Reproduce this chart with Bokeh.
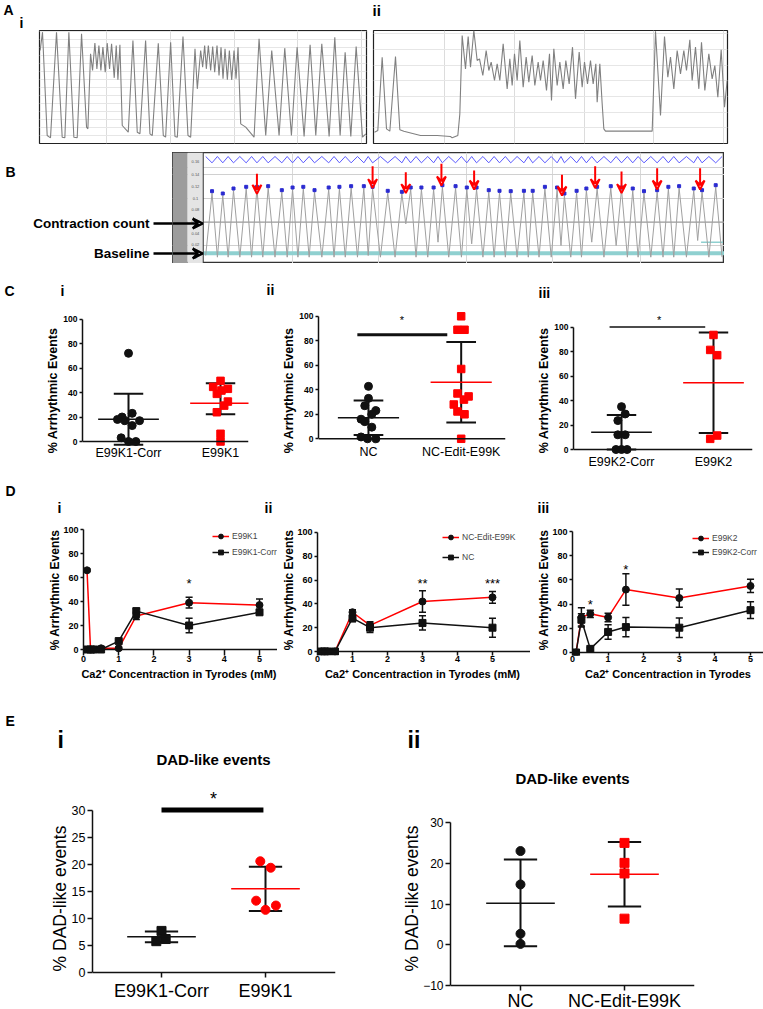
from bokeh.plotting import figure
from bokeh.layouts import row, column
from bokeh.models import (Range1d, FixedTicker, SingleIntervalTicker, Label, Arrow, VeeHead,
                          BoxAnnotation, Span, Legend, LegendItem, Spacer, Grid)
from bokeh.core.properties import value
from bokeh.embed import file_html
from bokeh.resources import INLINE

FONT = "Liberation Sans"
RED = "#ff0000"
INK = "#111111"

# ======================= DATA =======================
# Panel A i : contraction trace (frame index, amplitude a.u.)
ai_frame = [119,126,140,150,168,185,193,205,220,230,243,258,262,270,276,283,289,295,301,307,
            314,320,327,333,341,347,352,358,365,383,397,410,418,435,448,455,473,488,495,510,
            523,530,547,562,570,583,590,600,606,612,617,623,630,636,642,649,655,661,667,673,
            680,686,693,700,706,712,720,735,760,775,795,813,835,852,872,889,910,928,945,963,
            985,1002,1018,1033,1050,1066,1085,1095]
ai_amp = [279,334,24,17,334,19,17,334,19,17,329,49,44,269,219,301,224,294,219,289,
          214,301,224,299,197,294,191,296,54,34,309,34,29,309,29,24,301,24,19,304,
          21,19,321,24,19,284,164,279,229,294,224,294,219,291,214,294,204,289,194,284,
          191,279,191,279,194,289,59,49,19,314,24,279,24,286,24,289,21,296,24,299,
          21,319,24,274,21,291,19,29]
ai_grid = [317, 509, 700, 891, 1083]

# Panel A ii
aii_frame = [12,22,35,48,58,75,88,100,150,200,240,245,262,268,275,285,293,300,310,320,
             327,337,347,355,362,372,380,388,398,410,418,425,432,440,448,458,467,475,485,493,
             503,510,518,528,537,543,550,560,568,578,586,596,606,615,626,635,642,651,660,668,
             676,680,688,695,700,705,845,855,870,882,892,900,910,920,930,940,948,958,965,975,
             985,993,1003,1015,1025,1033,1042,1052,1062,1070]
aii_amp = [34,39,259,44,37,261,41,37,24,24,21,17,24,89,324,224,321,229,339,249,
           254,204,279,219,244,189,239,189,299,164,254,174,269,189,309,169,259,184,264,174,
           244,189,249,159,269,129,284,174,244,164,249,179,289,134,274,169,244,179,249,179,
           239,124,239,119,44,37,37,337,84,321,199,259,164,279,209,279,219,311,189,289,
           164,304,159,269,194,234,139,281,109,189]
aii_grid = [222, 432, 642, 850, 1060]

# Panel B : contraction trace (frame, signal level; larger = lower on screen)
b_peak_x = [433,455,477,503,525,548,576,598,620,643,672,694,718,744,762,793,822,840,862,887,
            905,932,955,975,1000,1022,1045,1072,1090,1115,1140,1155,1180,1200,1222,1250,1272,
            1295,1318,1345,1368,1390,1420,1437,1465]
b_peak_y = [143,150,135,130,130,128,140,132,130,140,132,130,128,128,130,142,145,132,132,132,
            125,128,132,132,140,142,143,142,142,130,132,150,142,135,130,128,132,135,143,140,
            130,128,135,140,125]
b_trough_x = [420,444,466,490,514,537,562,587,609,632,658,683,706,731,753,778,808,830,851,875,
              896,918,944,965,988,1011,1034,1058,1081,1103,1128,1148,1168,1190,1211,1236,1261,
              1284,1306,1332,1357,1379,1405,1428,1451,1478]
b_trough_y = [330,335,335,335,335,335,335,335,335,335,335,335,335,335,330,335,335,235,335,335,
              290,335,335,295,335,335,335,335,335,335,335,300,335,335,290,335,300,
              335,335,335,335,335,335,285,335,335]
b_blue_hi = 33
b_blue_lo = 52
b_arrow_x = [525, 762, 830, 903, 970, 1150, 1218, 1272, 1345, 1433]
b_arrow_top = [85, 62, 80, 55, 75, 88, 62, 78, 68, 68]
b_arrow_tip = [145, 128, 143, 120, 132, 150, 128, 143, 132, 132]
b_tick_pos = [48, 88, 122, 158, 193, 228, 265, 298, 335]
b_tick_lab = ["0.16", "0.14", "0.12", "0.1", "0.08", "0.06", "0.04", "0.02", "0"]
b_hgrid = [65, 88, 158, 300]
b_vgrid = [597, 775, 955, 1130, 1310]
b_count_level = 230
b_baseline_level = 323

# Panel C  (lo / hi = ends of the SD bars)
c1_cats = ["E99K1-Corr", "E99K1"]
c1_corr = [72, 23, 20, 18, 17, 17, 13, 3, 0, 0]
c1_corr_dx = [0, 0.04, -0.07, -0.12, -0.04, 0.12, 0.04, -0.08, 0, 0.08]
c1_mut = [49.5, 44.6, 43, 41.6, 38.9, 32.6, 29.3, 23.9, 6.3, 0]
c1_mut_dx = [0, -0.08, 0.08, 0.01, -0.04, 0.08, 0.04, -0.04, 0, 0]
c1_mean = [18.2, 31.2]
c1_lo = [-2.6, 22.3]
c1_hi = [39.0, 47.5]

c2_cats = ["NC", "NC-Edit-E99K"]
c2_nc = [42.8, 33, 27, 23, 20, 16, 14, 9.5, 1.5, 0, 0]
c2_nc_dx = [0, 0, -0.04, 0.08, 0.036, -0.08, -0.04, 0.036, -0.08, -0.01, 0.08]
c2_edit = [100, 89, 89, 57, 37, 34.6, 32, 28, 22.3, 20, 0]
c2_edit_dx = [0, -0.04, 0.036, 0, -0.04, 0.08, 0.03, -0.08, -0.04, 0.036, 0]
c2_mean = [17.2, 46.2]
c2_lo = [3.2, 13.4]
c2_hi = [31.2, 79.0]
c2_sig = [0.88, 1.85, 85]
c2_star = [1.36, 97]

c3_cats = ["E99K2-Corr", "E99K2"]
c3_corr = [35, 29, 23.6, 12, 12, 0, 0, 0]
c3_corr_dx = [0, 0.04, -0.04, -0.04, 0.04, -0.06, 0, 0.06]
c3_mut = [93.5, 81.3, 77, 8.7, 11.4]
c3_mut_dx = [0, -0.036, 0.04, -0.036, 0.04]
c3_mean = [14.1, 54.5]
c3_lo = [0.0, 13.5]
c3_hi = [28.2, 95.5]
c3_sig = [0.87, 1.91, 100]
c3_star = [1.41, 106]

# Panel D (Ca2+ mM)
d1_x = [0.1, 0.2, 0.3, 0.5, 1, 1.5, 3, 5]
d1_red = [66, 0, 0, 1, 1, 28, 39, 37]
d1_red_err = [1, 0, 0, 1, 1, 3, 4.5, 5]
d1_blk = [0, 0, 0, 0, 7, 32, 20, 31]
d1_blk_err = [1, 0, 0, 0, 1, 2, 6, 2]
d1_names = ["E99K1", "E99K1-Corr"]
d1_stars_x = [3]
d1_stars_y = [55]
d1_stars = ["*"]

d2_x = [0.1, 0.2, 0.3, 0.5, 1, 1.5, 3, 5]
d2_red = [0, 0, 0, 0, 33, 22, 42, 45.5]
d2_red_err = [0, 0, 0, 0, 2, 3, 9, 5]
d2_blk = [0, 0, 0, 0, 28, 20, 24, 20]
d2_blk_err = [0, 0, 0, 0, 3, 4, 6, 8]
d2_names = ["NC-Edit-E99K", "NC"]
d2_stars_x = [3, 5]
d2_stars_y = [57, 57.5]
d2_stars = ["**", "***"]

d3_x = [0.1, 0.25, 0.5, 1, 1.5, 3, 5]
d3_red = [0, 29, 32, 29, 52, 45, 55]
d3_red_err = [0, 8, 3, 3.5, 13, 7.5, 5.5]
d3_blk = [0, 27, 3, 17, 21, 20.5, 35]
d3_blk_err = [0, 5, 1, 6, 8, 8, 7]
d3_names = ["E99K2", "E99K2-Corr"]
d3_stars_x = [0.5, 1.5]
d3_stars_y = [39.5, 69]
d3_stars = ["*", "*"]
d_ticks_x = [0, 1, 2, 3, 4, 5]
d_ticks_y = [0, 20, 40, 60, 80, 100]

# Panel E
e1_cats = ["E99K1-Corr", "E99K1"]
e1_corr = [7.7, 5.8, 6.2]
e1_corr_dx = [0, -0.05, 0.04]
e1_mut = [20.6, 19.4, 13.3, 11.6, 12.4]
e1_mut_dx = [-0.05, 0.05, -0.09, 0, 0.1]
e1_mean = [6.6, 15.5]
e1_lo = [5.6, 11.4]
e1_hi = [7.6, 19.6]
e1_sig = [1.0, 1.98, 30.1]
e1_star = [1.5, 32.2]
e1_ticks_y = [0, 5, 10, 15, 20, 25, 30]

e2_cats = ["NC", "NC-Edit-E99K"]
e2_nc = [23, 14.8, 2.7, 0.2]
e2_edit = [25, 20.1, 17.5, 6.4]
e2_mean = [10.2, 17.3]
e2_lo = [-0.4, 9.4]
e2_hi = [20.9, 25.2]
e2_ticks_y = [-10, 0, 10, 20, 30]

# ======================= HELPERS =======================
MEAN_HW = 0.33
CAP_HW = 0.16
D_CAP = 0.1
W = 763


def make_fig(w, h, xr, yr, l, r, t, b, xaxis=True, yaxis=True):
    kw = dict(width=w, height=h, x_range=Range1d(*xr), y_range=Range1d(*yr),
              output_backend="svg", toolbar_location=None,
              min_border_left=l, min_border_right=r, min_border_top=t, min_border_bottom=b,
              x_axis_location="below" if xaxis else None,
              y_axis_location="left" if yaxis else None)
    p = figure(**kw)
    p.grid.visible = False
    p.outline_line_color = None
    p.background_fill_color = "white"
    p.border_fill_color = "white"
    return p


def label(p, x, y, text, size, style="bold", align="left", baseline="middle", color="black",
          x_units="screen"):
    p.add_layout(Label(x=x, y=y, x_units=x_units, y_units="screen", text=text,
                       text_font=FONT, text_font_size=f"{size}px", text_font_style=style,
                       text_align=align, text_baseline=baseline, text_color=color))


def header(h, items):
    """A text strip; items: (x, y_from_top, text, size, align)."""
    p = make_fig(W, h, (0, W), (0, h), 0, 0, 0, 0, xaxis=False, yaxis=False)
    for x, yt, text, size, align in items:
        label(p, x, h - yt, text, size, align=align)
    return p


def style_axis(ax, ticks, size, style="normal", tick_in=0, tick_out=3, lw=1.5, bounds=None,
               line=True, standoff=2):
    ax.ticker = FixedTicker(ticks=ticks)
    if bounds is not None:
        ax.bounds = bounds
    ax.axis_line_width = lw
    ax.axis_line_color = INK if line else None
    ax.major_tick_line_width = lw
    ax.major_tick_line_color = INK
    ax.major_tick_in = tick_in
    ax.major_tick_out = tick_out
    ax.minor_tick_line_color = None
    ax.major_label_text_font = FONT
    ax.major_label_text_font_size = f"{size}px"
    ax.major_label_text_font_style = style
    ax.major_label_text_color = "black"
    ax.major_label_standoff = standoff
    ax.axis_label_text_font = FONT
    ax.axis_label_text_color = "black"


def y_title(ax, text, size, style, standoff):
    ax.axis_label = text
    ax.axis_label_text_font_size = f"{size}px"
    ax.axis_label_text_font_style = style
    ax.axis_label_standoff = standoff


def cat_axis(p, cats, y0, label_y, size, tick_len=0.0):
    """Category axis drawn at data level y0; labels at label_y px above the frame bottom."""
    p.add_layout(Span(location=y0, dimension="width", line_color=INK, line_width=1.5))
    if tick_len > 0:
        p.segment(x0=[1, 2], y0=[y0, y0], x1=[1, 2], y1=[y0 - tick_len, y0 - tick_len],
                  line_color=INK, line_width=1.5)
    for i, c in enumerate(cats):
        label(p, i + 1, label_y, c, size, style="normal", align="center", x_units="data")


def dot_group(p, xc, dx, vals, marker, color, mean, lo, hi, mean_color, size):
    xs = [xc + d for d in dx]
    p.segment(x0=[xc], y0=[lo], x1=[xc], y1=[hi], line_color=INK, line_width=2)
    p.segment(x0=[xc - CAP_HW, xc - CAP_HW], y0=[lo, hi],
              x1=[xc + CAP_HW, xc + CAP_HW], y1=[lo, hi], line_color=INK, line_width=2)
    p.scatter(xs, vals, marker=marker, size=size, color=color)
    p.segment(x0=[xc - MEAN_HW], y0=[mean], x1=[xc + MEAN_HW], y1=[mean],
              line_color=mean_color, line_width=1.5)


def trace_grid(p, vticks, hticker):
    p.add_layout(Grid(dimension=0, ticker=FixedTicker(ticks=vticks), grid_line_color="#dcdcdc"))
    p.add_layout(Grid(dimension=1, ticker=hticker, grid_line_color="#e6e6e6"))


# ======================= PANEL A =======================
hA = header(29, [(3, 9, "A", 14, "left"), (19, 22, "i", 14, "left"),
                 (372, 10, "ii", 15, "left")])

pA1 = make_fig(368, 118, (117, 1097), (0, 339), 39, 2, 1, 4, xaxis=False, yaxis=False)
trace_grid(pA1, ai_grid, SingleIntervalTicker(interval=24))
pA1.outline_line_color = "#222222"
pA1.outline_line_width = 1.2
pA1.line(ai_frame, ai_amp, line_color="#808080", line_width=1.1)

pA2 = make_fig(395, 118, (9, 1071), (0, 339), 5, 36, 1, 4, xaxis=False, yaxis=False)
trace_grid(pA2, aii_grid, SingleIntervalTicker(interval=47))
pA2.outline_line_color = "#222222"
pA2.outline_line_width = 1.2
pA2.line(aii_frame, aii_amp, line_color="#808080", line_width=1.1)

# ======================= PANEL B =======================
pBt = make_fig(172, 123, (0, 172), (0, 123), 0, 0, 0, 0, xaxis=False, yaxis=False)
label(pBt, 5, 99, "B", 14)
label(pBt, 149, 47, "Contraction count", 13.5, align="right")
label(pBt, 149, 17, "Baseline", 13.5, align="right")
pBt.add_layout(Arrow(end=None, x_start=153, y_start=47, x_end=172, y_end=47,
                     line_color="black", line_width=2.5))
pBt.add_layout(Arrow(end=None, x_start=153, y_start=17, x_end=172, y_end=17,
                     line_color="black", line_width=2.5))

pB = make_fig(552, 111, (352, 1483), (354, 21), 0, 0, 0, 0, xaxis=False, yaxis=False)
pB.outline_line_color = "#333333"
pB.outline_line_width = 1.5
pB.add_layout(Grid(dimension=0, ticker=FixedTicker(ticks=b_vgrid), grid_line_color="#d8d8d8"))
pB.add_layout(Grid(dimension=1, ticker=FixedTicker(ticks=b_hgrid), grid_line_color="#d0d0d0"))
pB.add_layout(Span(location=b_count_level, dimension="width", line_color="#9a9a9a",
                   line_width=1.2, level="underlay"))
pB.add_layout(Span(location=b_baseline_level, dimension="width", line_color="#8fd0d0",
                   line_width=4, level="underlay"))
pB.add_layout(BoxAnnotation(left=352, right=383, fill_color="#9c9c9c", fill_alpha=1,
                            line_color=None, level="underlay"))
pB.add_layout(BoxAnnotation(left=383, right=415, fill_color="#e4e4e4", fill_alpha=1,
                            line_color=None, level="underlay"))
pB.add_layout(Span(location=415, dimension="height", line_color="#333333", line_width=1,
                   level="underlay"))
pB.segment(x0=[1435], y0=[290], x1=[1480], y1=[290], line_color="#8fd0d0", line_width=1.5)

bx, by = [], []
for i in range(len(b_peak_x)):
    bx += [b_trough_x[i], b_peak_x[i]]
    by += [b_trough_y[i], b_peak_y[i]]
bx.append(b_trough_x[-1])
by.append(b_trough_y[-1])
pB.line(bx, by, line_color="#a0a0a0", line_width=1)

blx, bly = [], []
for i in range(len(b_peak_x)):
    blx += [b_trough_x[i], b_peak_x[i]]
    bly += [b_blue_hi, b_blue_lo]
blx.append(b_trough_x[-1])
bly.append(b_blue_hi)
pB.line(blx, bly, line_color="#5a5aff", line_width=1)
pB.scatter(b_peak_x, [y - 6 for y in b_peak_y], marker="square", size=3, color="#2b2bd0")
pB.text(x=[399] * len(b_tick_pos), y=b_tick_pos, text=b_tick_lab, text_font=value(FONT),
        text_font_size="4px", text_align="center", text_baseline="middle", text_color="#555555")
for xa, yt, yb in zip(b_arrow_x, b_arrow_top, b_arrow_tip):
    pB.add_layout(Arrow(end=VeeHead(size=9, line_color=RED, line_width=2, fill_color=None),
                        x_start=xa, y_start=yt, x_end=xa, y_end=yb,
                        line_color=RED, line_width=2))
for yl in (234, 324):
    pB.add_layout(Arrow(end=VeeHead(size=10, line_color="black", line_width=2.5, fill_color=None),
                        x_start=352, y_start=yl, x_end=414, y_end=yl,
                        line_color="black", line_width=2.5))

rowB = row(pBt, column(Spacer(width=552, height=5), pB, Spacer(width=552, height=7), spacing=0),
           spacing=0)


# ======================= PANEL C =======================
def c_panel(w, xr, yr, l, r, cats, label_y, blk, blk_dx, red, red_dx, mean, lo, hi,
            sig=None, star=None, sig_w=3):
    p = make_fig(w, 174, xr, yr, l, r, 2, 0, xaxis=False)
    cat_axis(p, cats, 0, label_y, 12.5)
    style_axis(p.yaxis[0], [0, 20, 40, 60, 80, 100], 8.5, "bold", tick_out=3, bounds=(0, 100))
    y_title(p.yaxis[0], "% Arrhythmic Events", 12.5, "bold", 0)
    dot_group(p, 1, blk_dx, blk, "circle", INK, mean[0], lo[0], hi[0], INK, 8)
    dot_group(p, 2, red_dx, red, "square", RED, mean[1], lo[1], hi[1], RED, 7.5)
    if sig is not None:
        p.segment(x0=[sig[0]], y0=[sig[2]], x1=[sig[1]], y1=[sig[2]], line_color=INK,
                  line_width=sig_w)
        p.text(x=[star[0]], y=[star[1]], text=["*"], text_font=value(FONT), text_font_size="11px",
               text_align="center", text_baseline="middle")
    return p


hC = header(32, [(4, 20, "C", 14, "left"), (60, 20, "i", 14, "left"),
                 (266, 19, "ii", 14, "left"), (538, 22, "iii", 14, "left")])
pC1 = c_panel(250, (0.5, 2.304), (-28.57, 111.84), 82, 2, c1_cats, 24,
              c1_corr, c1_corr_dx, c1_mut, c1_mut_dx, c1_mean, c1_lo, c1_hi)
pC2 = c_panel(260, (0.461, 2.478), (-30.78, 109.63), 68, 5, c2_cats, 25,
              c2_nc, c2_nc_dx, c2_edit, c2_edit_dx, c2_mean, c2_lo, c2_hi, c2_sig, c2_star, 3)
pC3 = c_panel(253, (0.478, 2.424), (-22.04, 118.37), 63, 11, c3_cats, 15,
              c3_corr, c3_corr_dx, c3_mut, c3_mut_dx, c3_mean, c3_lo, c3_hi, c3_sig, c3_star, 1.5)


# ======================= PANEL D =======================
# all D plots share the same frame rows (top 524, bottom 655), as Bokeh aligns them in a row
def d_panel(w, xr, yr, gap, l, x, red, red_e, blk, blk_e, names, sx, sy, st, leg_loc,
            leg_spacing, xlabel):
    p = make_fig(w, 184, xr, yr, l, 0, 8, 45)
    style_axis(p.xaxis[0], d_ticks_x, 9, "bold", tick_in=gap, tick_out=0, bounds=(0, 5),
               line=False, standoff=0)
    p.add_layout(Span(location=0, dimension="width", line_color=INK, line_width=1.5))
    p.xaxis[0].axis_label = xlabel
    p.xaxis[0].axis_label_text_font_size = "11px"
    p.xaxis[0].axis_label_text_font_style = "bold"
    p.xaxis[0].axis_label_standoff = 3
    style_axis(p.yaxis[0], d_ticks_y, 9, "bold", tick_out=3, bounds=(0, 100))
    y_title(p.yaxis[0], "% Arrhythmic Events", 12, "bold", -2)
    rl = p.line(x, red, line_color=RED, line_width=1.5)
    kl = p.line(x, blk, line_color=INK, line_width=1.5)
    for ys, es in ((red, red_e), (blk, blk_e)):
        xe = [xi for xi, e in zip(x, es) if e > 0]
        lo = [yi - e for yi, e in zip(ys, es) if e > 0]
        hi = [yi + e for yi, e in zip(ys, es) if e > 0]
        p.segment(x0=xe, y0=lo, x1=xe, y1=hi, line_color=INK, line_width=1.5)
        p.segment(x0=[v - D_CAP for v in xe], y0=hi, x1=[v + D_CAP for v in xe], y1=hi,
                  line_color=INK, line_width=1.5)
        p.segment(x0=[v - D_CAP for v in xe], y0=lo, x1=[v + D_CAP for v in xe], y1=lo,
                  line_color=INK, line_width=1.5)
    kp = p.scatter(x, blk, marker="square", size=7, color=INK)
    rp = p.scatter(x, red, marker="circle", size=7, color=INK)
    p.text(x=sx, y=sy, text=st, text_font=value(FONT), text_font_size="13px",
           text_align="center", text_baseline="middle")
    leg = Legend(items=[LegendItem(label=names[0], renderers=[rl, rp]),
                        LegendItem(label=names[1], renderers=[kl, kp])],
                 location=leg_loc, orientation="vertical", background_fill_alpha=0,
                 border_line_color=None, padding=0, margin=0, spacing=leg_spacing,
                 glyph_width=17, glyph_height=12, label_height=12, label_standoff=3,
                 label_text_font=FONT, label_text_font_size="8.5px")
    p.add_layout(leg)
    return p


XL = "Ca2\u207a Concentraction in Tyrodes  (mM)"
hD = header(40, [(5, 14, "D", 14, "left"), (57, 31, "i", 14, "left"),
                 (264, 31, "ii", 14, "left"), (537, 31, "iii", 14, "left")])
pD1 = d_panel(277, (0, 5.511), (-5.0, 104.17), 6, 83, d1_x, d1_red, d1_red_err, d1_blk,
              d1_blk_err, d1_names, d1_stars_x, d1_stars_y, d1_stars, (129, 97), 4, XL)
pD2 = d_panel(253, (0, 6.086), (-3.36, 106.72), 4, 40, d2_x, d2_red, d2_red_err, d2_blk,
              d2_blk_err, d2_names, d2_stars_x, d2_stars_y, d2_stars, (125, 92), 8, XL)
pD3 = d_panel(233, (0, 5.365), (-2.48, 105.79), 3, 42, d3_x, d3_red, d3_red_err, d3_blk,
              d3_blk_err, d3_names, d3_stars_x, d3_stars_y, d3_stars, (120, 97), 2,
              "Ca2\u207a Concentraction in Tyrodes")

# ======================= PANEL E =======================
hE = header(87, [(5, 20, "E", 14, "left"), (57, 39, "i", 23, "left"),
                 (407, 39, "ii", 23, "left"),
                 (213, 59, "DAD-like events", 15, "center"),
                 (572, 78, "DAD-like events", 15, "center")])

# both E plots span the full row height (frame 787..1009)
E1_PPU = 5.4
pE1 = make_fig(380, 222, (0.3365, 2.673), (-37 / E1_PPU, 185 / E1_PPU), 92, 45, 0, 0, xaxis=False)
cat_axis(pE1, e1_cats, 0, 19, 18, tick_len=5 / E1_PPU)
style_axis(pE1.yaxis[0], e1_ticks_y, 12.5, "normal", tick_out=5, bounds=(0, 30))
y_title(pE1.yaxis[0], "% DAD-like events", 17.5, "normal", -1)
dot_group(pE1, 1, e1_corr_dx, e1_corr, "square", INK, e1_mean[0], e1_lo[0], e1_hi[0], INK, 9)
dot_group(pE1, 2, e1_mut_dx, e1_mut, "circle", RED, e1_mean[1], e1_lo[1], e1_hi[1], RED, 9)
pE1.segment(x0=[e1_sig[0]], y0=[e1_sig[2]], x1=[e1_sig[1]], y1=[e1_sig[2]],
            line_color="black", line_width=5)
pE1.text(x=[e1_star[0]], y=[e1_star[1]], text=["*"], text_font=value(FONT),
         text_font_size="18px", text_align="center", text_baseline="middle")

E2_PPU = 4.07
pE2 = make_fig(383, 222, (0.327, 2.673), (-10 - 24 / E2_PPU, 30 + 35 / E2_PPU), 70, 69, 0, 0,
               xaxis=False)
cat_axis(pE2, e2_cats, -10, 9, 18, tick_len=5 / E2_PPU)
style_axis(pE2.yaxis[0], e2_ticks_y, 12, "normal", tick_out=5, bounds=(-10, 30))
y_title(pE2.yaxis[0], "% DAD-like events", 17.5, "normal", -2)
dot_group(pE2, 1, [0] * len(e2_nc), e2_nc, "circle", INK, e2_mean[0], e2_lo[0], e2_hi[0], INK, 9)
dot_group(pE2, 2, [0] * len(e2_edit), e2_edit, "square", RED, e2_mean[1], e2_lo[1], e2_hi[1],
          RED, 9)

# ======================= LAYOUT =======================
layout = column(
    hA,
    row(pA1, pA2, spacing=0),
    rowB,
    hC,
    row(pC1, pC2, pC3, spacing=0),
    hD,
    row(pD1, pD2, pD3, spacing=0),
    hE,
    row(pE1, pE2, spacing=0),
    spacing=0,
)

open("out.html", "w").write(file_html(layout, INLINE))
